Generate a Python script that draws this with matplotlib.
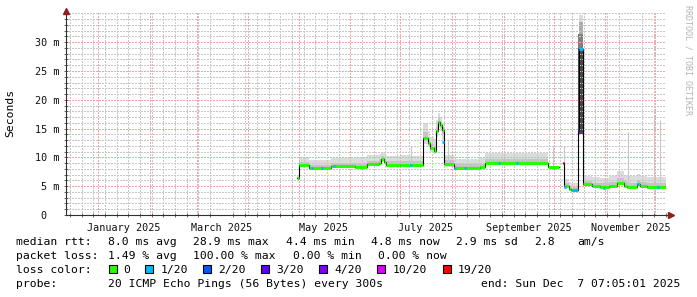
import numpy as np
import matplotlib.pyplot as plt
import matplotlib.dates as mdates
from matplotlib.patches import Rectangle

W, H = 697, 297

# median rtt segments (ms); each one lasts until the next start
seg_start = ["2025-04-30T06", "2025-05-01T06", "2025-05-07T05", "2025-05-20T05",
             "2025-06-03T14", "2025-06-11T00", "2025-06-18T00", "2025-06-19T12",
             "2025-06-21T00", "2025-06-22T06", "2025-07-01T00", "2025-07-07T00",
             "2025-07-14T12", "2025-07-17T12", "2025-07-19T00", "2025-07-21T00",
             "2025-07-22T12", "2025-07-23T12", "2025-07-25T00", "2025-07-26T06",
             "2025-07-27T06", "2025-08-02T00", "2025-08-18T00", "2025-08-21T00",
             "2025-09-27T12", "2025-10-04T00", "2025-10-06T06", "2025-10-07T06",
             "2025-10-10T00", "2025-10-11T12", "2025-10-15T06", "2025-10-16T06",
             "2025-10-18T06", "2025-10-18T18", "2025-10-24T00", "2025-10-29T00",
             "2025-11-03T00", "2025-11-08T00", "2025-11-12T00", "2025-11-14T00",
             "2025-11-20T00", "2025-11-22T00", "2025-11-26T00"]
rtt_med = [6.5, 8.7, 8.1, 8.5, 8.35, 8.8, 9.1, 9.7, 9.25, 8.7, 8.6, 8.75,
           13.3, 12.5, 11.6, 11.1, 14.5, 16.2, 15.6, 14.8, 8.8, 8.1, 8.3, 9.0,
           8.3, np.nan, 9.0, 5.0, 4.6, 4.3, 14.5, 28.9, 16.8, 5.3, 5.0, 4.9,
           5.0, 5.6, 5.1, 4.8, 5.4, 5.0, 4.8]
smoke_lo = [6.3, 8.4, 7.9, 8.2, 8.0, 8.5, 8.7, 9.2, 8.9, 8.4, 8.3, 8.4,
            12.4, 11.8, 11.0, 10.6, 13.5, 15.2, 14.5, 13.0, 8.4, 7.8, 8.0, 8.6,
            8.0, np.nan, 8.8, 4.7, 4.3, 4.1, 4.5, 14.0, 5.5, 5.0, 4.8, 4.7,
            4.8, 5.2, 4.9, 4.6, 5.0, 4.8, 4.6]
smoke_hi = [6.9, 10.1, 9.5, 9.9, 10.0, 10.4, 10.6, 11.0, 10.8, 10.2, 10.4, 10.2,
            15.9, 14.5, 13.5, 13.2, 16.5, 17.7, 17.0, 16.0, 10.5, 9.8, 9.9, 10.8,
            10.6, np.nan, 9.2, 6.2, 5.8, 5.6, 20.0, 34.7, 22.0, 6.8, 6.6, 6.5,
            6.7, 7.6, 7.0, 6.8, 7.2, 6.8, 6.6]
seg_loss = [0] * 26 + [19, 0, 0, 1, 3, 1, 1] + [0] * 10
data_end = "2025-12-07T07:05"

# single polls with 1/20 loss
loss_time = ["2025-05-09", "2025-05-15", "2025-05-22", "2025-07-07T12",
             "2025-07-26T18", "2025-08-03", "2025-08-09", "2025-08-29",
             "2025-09-09", "2025-10-07T18", "2025-10-31", "2025-11-20T12",
             "2025-12-02T12"]
loss_rtt = [8.1, 8.1, 8.5, 8.75, 12.7, 8.1, 8.1, 9.0, 9.0, 4.9, 4.7, 5.4, 4.9]

# thin smoke spikes
spike_time = ["2025-07-07T12", "2025-07-29T12", "2025-09-30T18", "2025-10-07T00",
              "2025-11-14T12", "2025-11-30T00", "2025-12-03T12"]
spike_lo = [8.8, 8.8, 8.5, 4.9, 5.0, 5.0, 5.0]
spike_hi = [11.9, 13.2, 11.9, 11.9, 14.4, 17.0, 16.5]

# dark smoke of the October spike
dark_start = ["2025-10-15T12", "2025-10-15T18", "2025-10-16T00"]
dark_end = ["2025-10-18T18", "2025-10-18T12", "2025-10-18T06"]
dark_lo = [14.0, 29.0, 31.5]
dark_hi = [29.0, 31.5, 33.5]
dark_col = ["#4a4a4a", "#808080", "#ababab"]

loss_levels = [0, 1, 2, 3, 4, 10, 19]
loss_labels = ["0", "1/20", "2/20", "3/20", "4/20", "10/20", "19/20"]
loss_colors = ["#26ff00", "#00b8ff", "#0059ff", "#5e00ff", "#7e00ff", "#dd00ff", "#ff0000"]
col_of = dict(zip(loss_levels, loss_colors))

y_ticks = [0, 5, 10, 15, 20, 25, 30]
y_labels = ["0  ", "5 m", "10 m", "15 m", "20 m", "25 m", "30 m"]

rtt_line = ["median rtt:", "8.0 ms avg", "28.9 ms max", "4.4 ms min", "4.8 ms now",
            "2.9 ms sd", "2.8", "am/s"]
rtt_cols = [0, 13, 25, 38, 50, 62, 73, 79]
pl_line = ["packet loss:", "1.49 % avg", "100.00 % max", "0.00 % min", "0.00 % now"]
pl_cols = [0, 13, 25, 39, 51]

t0 = mdates.date2num(np.datetime64("2024-12-12T07:05"))
t1 = mdates.date2num(np.datetime64(data_end))

starts = mdates.date2num(np.array(seg_start, dtype="datetime64[m]"))
ends = np.append(starts[1:], t1)
med = np.array(rtt_med, float)
lo = np.array(smoke_lo, float)
hi = np.array(smoke_hi, float)
xs = np.append(starts, t1)

def last(a):
    return np.append(a, a[-1])

plt.rcParams['font.family'] = ['DejaVu Sans Mono']
fig = plt.figure(figsize=(W / 100, H / 100), dpi=100)
ax = fig.add_axes([65.5 / W, 1 - 215 / H, 600.5 / W, (215 - 13.4) / H])

# smoke
ax.fill_between(xs, last(lo), last(hi), step='post', color='#dcdcdc', lw=0, zorder=1)
mid_lo = med - 0.4 * (med - lo)
mid_hi = med + 0.4 * (hi - med)
ax.fill_between(xs, last(mid_lo), last(mid_hi), step='post', color='#c4c4c4', lw=0, zorder=1)
ax.vlines(mdates.date2num(np.array(spike_time, dtype="datetime64[m]")), spike_lo, spike_hi,
          color='#c8c8c8', lw=0.8, zorder=1)
for s, e, a, b, c in zip(dark_start, dark_end, dark_lo, dark_hi, dark_col):
    s = mdates.date2num(np.datetime64(s))
    e = mdates.date2num(np.datetime64(e))
    ax.fill_between([s, e], [a, a], [b, b], color=c, lw=0, zorder=1.2)

# median line: thin black steps, loss coloured levels on top
ax.step(xs, last(med), where='post', color='black', lw=0.8, zorder=3)
ok = ~np.isnan(med)
ax.hlines(med[ok], starts[ok], ends[ok], colors=[col_of[l] for l, k in zip(seg_loss, ok) if k],
          lw=2.2, zorder=4)
lt = mdates.date2num(np.array(loss_time, dtype="datetime64[m]"))
ax.hlines(loss_rtt, lt - 0.6, lt + 0.6, colors=col_of[1], lw=2.2, zorder=5)

ax.set_xlim(t0, t1)
ax.set_ylim(0, 35)

# grid
ax.set_axisbelow('line')
ax.set_yticks(y_ticks)
ax.set_yticklabels(y_labels)
ax.yaxis.set_minor_locator(plt.MultipleLocator(1))
ax.xaxis.set_major_locator(mdates.MonthLocator(bymonth=[1, 3, 5, 7, 9, 11], bymonthday=16))
ax.xaxis.set_major_formatter(mdates.DateFormatter('%B %Y'))
ax.xaxis.set_minor_locator(mdates.WeekdayLocator(byweekday=mdates.SU))
dots = (0, (1.4, 1.4))
red_grid = dict(color='#f0a8a8', lw=0.72, ls=dots, antialiased=False)
gray_grid = dict(color='#c8c8c8', lw=0.72, ls=dots, antialiased=False)
ax.yaxis.grid(True, which='major', **red_grid)
ax.yaxis.grid(True, which='minor', **gray_grid)
ax.xaxis.grid(True, which='minor', **gray_grid)
month_loc = mdates.MonthLocator()
for m in month_loc.tick_values(mdates.num2date(t0), mdates.num2date(t1)):
    if t0 < m < t1:
        ax.axvline(m, zorder=1.6, **red_grid)

for sp in ax.spines.values():
    sp.set_visible(False)
ax.plot([0, 1.006], [0, 0], transform=ax.transAxes, clip_on=False, color='#303030', lw=0.8, zorder=6)
ax.plot([0, 0], [0, 1.0], transform=ax.transAxes, clip_on=False, color='#303030', lw=0.8, zorder=6)
ax.plot([1.0075], [0], marker='>', ms=4, color='#8f1f1f', transform=ax.transAxes, clip_on=False, zorder=7)
ax.plot([0], [1.012], marker='^', ms=4, color='#8f1f1f', transform=ax.transAxes, clip_on=False, zorder=7)

ax.tick_params(axis='both', which='both', direction='inout', length=2.5, width=0.6, color='#505050',
               labelsize=7.3, labelcolor='#111111')
ax.tick_params(axis='x', which='major', length=0, pad=5.5)
ax.tick_params(axis='y', which='major', pad=3.2)

# titles and legend
fig.text(10.5 / W, 1 - 113 / H, "Seconds", rotation=90, ha='center', va='center', fontsize=8.2)
fig.text(688 / W, 1 - 60 / H, "RRDTOOL / TOBI OETIKER", rotation=270, ha='center', va='center',
         fontsize=6, color='#b4b4b4')

cw = 7.1
base = [244.6, 258.7, 272.8, 286.9]
for txt, c in zip(rtt_line, rtt_cols):
    fig.text((16 + c * cw) / W, 1 - base[0] / H, txt, fontsize=8.2, va='baseline')
for txt, c in zip(pl_line, pl_cols):
    fig.text((16 + c * cw) / W, 1 - base[1] / H, txt, fontsize=8.2, va='baseline')
fig.text(16 / W, 1 - base[2] / H, "loss color:", fontsize=8.2, va='baseline')
bx = 108.7
for lab, c in zip(loss_labels, loss_colors):
    fig.patches.append(Rectangle((bx / W, 1 - 273.3 / H), 8 / W, 8 / H, transform=fig.transFigure,
                                 facecolor=c, edgecolor='black', lw=0.8))
    fig.text((bx + 15) / W, 1 - base[2] / H, lab, fontsize=8.2, va='baseline')
    bx = bx + 15 + len(lab) * cw + 14.6
fig.text(16 / W, 1 - base[3] / H, "probe:", fontsize=8.2, va='baseline')
fig.text((16 + 13 * cw) / W, 1 - base[3] / H, "20 ICMP Echo Pings (56 Bytes) every 300s",
         fontsize=8.2, va='baseline')
fig.text(680.5 / W, 1 - base[3] / H, "end: Sun Dec  7 07:05:01 2025", fontsize=8.2,
         va='baseline', ha='right')

fig.savefig("out.png", dpi=100)
